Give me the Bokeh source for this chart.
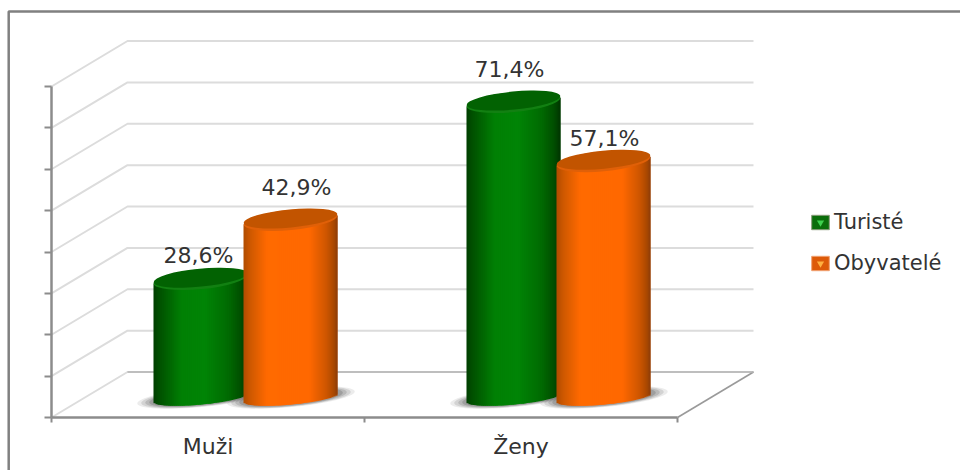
import math
from bokeh.core.properties import value
from bokeh.embed import file_html
from bokeh.models import ColumnDataSource, FixedTicker, Legend, LegendItem, Range1d
from bokeh.plotting import figure
from bokeh.resources import INLINE

# ---- data ----
categories = ["Muži", "Ženy"]
series_names = ["Turisté", "Obyvatelé"]
turiste = [28.6, 71.4]
obyvatele = [42.9, 57.1]
value_labels_t = ["28,6%", "71,4%"]
value_labels_o = ["42,9%", "57,1%"]
y_ticks = [0, 10, 20, 30, 40, 50, 60, 70, 80]

# ---- layout ----
PX_PER_CAT = 313.0
PX_PER_PCT = 4.1375
AXIS_LEFT = 51.0
AXIS_BOTTOM = 417.0


def X(px):
    return (px - AXIS_LEFT) / PX_PER_CAT


def Y(px):
    return (AXIS_BOTTOM - px) / PX_PER_PCT


W, H = 960, 470
FONT = "DejaVu Sans"
p = figure(width=W, height=H, output_backend="svg", toolbar_location=None,
           x_range=Range1d(X(0), X(W)), y_range=Range1d(Y(H), Y(0)),
           min_border=0, outline_line_color=None, background_fill_color="white",
           border_fill_color="white")
p.grid.visible = False

# Axes sit on the front edge of the floor
xa = p.xaxis[0]
xa.fixed_location = 0
xa.bounds = (0, 2)
xa.ticker = FixedTicker(ticks=[0.5, 1.5], minor_ticks=[0, 1, 2])
xa.major_label_overrides = {0.5: categories[0], 1.5: categories[1]}
xa.major_tick_in = 0
xa.major_tick_out = 0
xa.minor_tick_in = 0
xa.minor_tick_out = 5
xa.minor_tick_line_color = "#8c8c8c"
xa.minor_tick_line_width = 2
xa.axis_line_color = "#8c8c8c"
xa.axis_line_width = 2.5
xa.major_label_standoff = 11
xa.major_label_text_font = FONT
xa.major_label_text_font_size = "22px"
xa.major_label_text_color = "#333333"

ya = p.yaxis[0]
ya.fixed_location = 0
ya.bounds = (0, 80)
ya.ticker = FixedTicker(ticks=y_ticks)
ya.major_label_overrides = {t: "" for t in y_ticks}
ya.major_tick_in = 0
ya.major_tick_out = 7
ya.major_tick_line_color = "#8c8c8c"
ya.major_tick_line_width = 2
ya.minor_tick_line_color = None
ya.axis_line_color = "#8c8c8c"
ya.axis_line_width = 2.5

# Outer frame (top and left only are visible in the reference)
p.line([X(960), X(8.2), X(8.2)], [Y(11), Y(11), Y(470)], line_color="#808080", line_width=2.5)

# 3D walls
DX = 76 / PX_PER_CAT
DY = 45.5 / PX_PER_PCT
grid_x = [[0, DX, 2 + DX] for _ in y_ticks]
grid_y = [[t, t + DY, t + DY] for t in y_ticks]
p.multi_line(grid_x, grid_y, line_color="#dcdcdc", line_width=2)
p.line([2 + DX, 2], [DY, 0], line_color="#9a9a9a", line_width=1.6)
p.line([DX, 2 + DX], [DY, DY], line_color="#b4b4b4", line_width=1.6)

# Cylinders
CYL_W = 94 / PX_PER_CAT
SER_OFF = [0.476, 0.7636]
BASE = 20 / PX_PER_PCT
A, B, TILT = 47.0, 10.0, 4.5
ANGLE = math.atan2(TILT, A)

palettes = {
    0: dict(stops=[(0, (0, 62, 0)), (.06, (0, 80, 0)), (.3, (0, 128, 4)), (.55, (0, 132, 6)),
                   (.8, (0, 106, 2)), (.93, (0, 78, 0)), (1, (0, 52, 0))],
            cap="#026202", rim="#128012"),
    1: dict(stops=[(0, (176, 76, 0)), (.07, (205, 88, 0)), (.25, (255, 106, 0)), (.7, (255, 104, 0)),
                   (.88, (206, 86, 0)), (.96, (170, 72, 0)), (1, (140, 60, 10))],
            cap="#c25400", rim="#e06008"),
}


def shade(stops, t):
    for (t0, c0), (t1, c1) in zip(stops, stops[1:]):
        if t <= t1:
            f = (t - t0) / (t1 - t0)
            return "#%02x%02x%02x" % tuple(round(a + (b - a) * f) for a, b in zip(c0, c1))
    return "#%02x%02x%02x" % stops[-1][1]


order = [(0, turiste), (1, obyvatele)]

# Soft floor shadows first
for s, vals in order:
    for c in range(len(categories)):
        cx = c + SER_OFF[s]
        for grow, alpha in [(34, .10), (26, .14), (18, .18), (10, .22)]:
            p.ellipse([cx + .5 / PX_PER_CAT], [BASE], width=(94 + grow) / PX_PER_CAT,
                      height=(15 + grow * .12) / PX_PER_PCT, angle=ANGLE,
                      fill_color="#404040", fill_alpha=alpha, line_color=None)

N = 47
for s, vals in order:
    pal = palettes[s]
    for c, v in enumerate(vals):
        cx = c + SER_OFF[s]
        top_c = BASE + v
        ls, rs, tops, bots, cols = [], [], [], [], []
        step = CYL_W / N
        for i in range(N):
            t = (i + .5) / N
            u = 2 * t - 1
            ls.append(cx - CYL_W / 2 + i * step)
            rs.append(cx - CYL_W / 2 + min(i + 2, N) * step)
            tops.append(top_c + TILT * u / PX_PER_PCT)
            bots.append(BASE + (TILT * u - 7.0 * math.sqrt(max(0, 1 - u * u))) / PX_PER_PCT)
            cols.append(shade(pal["stops"], t))
        src = ColumnDataSource(dict(left=ls, right=rs, top=tops, bottom=bots, color=cols))
        p.quad(left="left", right="right", top="top", bottom="bottom", source=src,
               fill_color="color", line_color=None)
        p.ellipse([cx], [top_c], width=CYL_W, height=2 * B / PX_PER_PCT, angle=ANGLE,
                  fill_color=pal["rim"], line_color=None)
        p.ellipse([cx], [top_c + 1.5 / PX_PER_PCT], width=CYL_W, height=2 * (B - 1) / PX_PER_PCT,
                  angle=ANGLE, fill_color=pal["cap"], line_color=None)

# Data labels
LABEL_DX = {0: [-2, -4], 1: [6, 1]}
LABEL_DY = {0: [24, 33], 1: [33, 23]}
for s, vals, labels in [(0, turiste, value_labels_t), (1, obyvatele, value_labels_o)]:
    lx = [c + SER_OFF[s] + LABEL_DX[s][c] / PX_PER_CAT for c in range(len(vals))]
    ly = [BASE + v + LABEL_DY[s][c] / PX_PER_PCT for c, v in enumerate(vals)]
    p.text(lx, ly, text=labels, text_align="center", text_baseline="middle",
           text_font=value(FONT), text_font_size="22px", text_color="#333333")

# Legend keys: renderers kept outside the visible ranges, so only the key shows them
leg_items = []
for s, name, body, edge, light in [(0, series_names[0], "#0b6e0b", "#8a9a7a", "#3fd04f"),
                                   (1, series_names[1], "#dd5a08", "#f0a070", "#ffb040")]:
    r1 = p.quad(left=[-50], right=[-49], top=[-50], bottom=[-51], fill_color=body, line_color=edge)
    r2 = p.scatter(x=[-50], y=[-50], marker="inverted_triangle", fill_color=light, line_color=None)
    leg_items.append(LegendItem(label=name, renderers=[r1, r2]))
legend = Legend(items=leg_items, location=(809, H - 275), orientation="vertical",
                background_fill_alpha=0, border_line_color=None, padding=0, margin=0,
                spacing=17, glyph_width=22, glyph_height=18, label_standoff=3,
                label_text_font=FONT, label_text_font_size="21px", label_text_color="#333333")
p.add_layout(legend, "center")

open("out.html", "w").write(file_html(p, INLINE))
